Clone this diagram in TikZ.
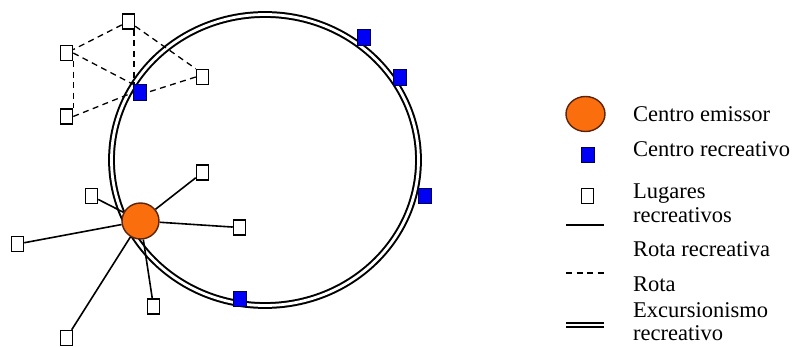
\documentclass[tikz,border=0pt]{standalone}
\usepackage{fontspec}
\setmainfont{Liberation Serif}
\usetikzlibrary{shapes.geometric,backgrounds}
\definecolor{emorange}{RGB}{250,110,14}
\definecolor{emborder}{RGB}{90,35,10}
\definecolor{recblue}{RGB}{0,0,245}
\definecolor{recborder}{RGB}{0,0,80}
\tikzset{
  lugar/.style={draw=black, fill=white, line width=1.5pt, minimum width=12pt, minimum height=15pt, inner sep=0pt},
  crec/.style={draw=recborder, fill=recblue, line width=1pt, minimum width=13pt, minimum height=15.5pt, inner sep=0pt},
  cemis/.style={ellipse, draw=emborder, fill=emorange, line width=1.4pt, inner sep=0pt},
  rotarec/.style={line width=1.6pt},
  rota/.style={line width=1.3pt, dash pattern=on 6pt off 4.5pt},
  excur/.style={draw=black, line width=2pt, double=white, double distance=2.8pt},
  leg/.style={font=\fontsize{22.5}{26}\selectfont, anchor=base west, inner sep=0pt}
}
\begin{document}
\begin{tikzpicture}[x=1pt,y=-1pt]
\useasboundingbox (0,0) rectangle (795,347);

% recreation centres on the ring
\node[crec] (b1) at (140,92.5) {};
\node[crec] (b2) at (363.5,37.5) {};
\node[crec] (b3) at (400,77.5) {};
\node[crec] (b4) at (425,196) {};
\node[crec] (b5) at (240,299) {};

% places (dashed cluster)
\node[lugar] (t1) at (128.5,21.5) {};
\node[lugar] (t2) at (66.5,53) {};
\node[lugar] (t3) at (202.5,77) {};
\node[lugar] (t4) at (66.5,116.5) {};

% emitting centre and its places
\node[cemis, minimum width=37pt, minimum height=36pt] (c) at (140.5,221) {};
\node[lugar] (p1) at (202.5,172.5) {};
\node[lugar] (p2) at (91.5,196) {};
\node[lugar] (p3) at (17.5,244) {};
\node[lugar] (p4) at (239.5,227.5) {};
\node[lugar] (p5) at (153.5,306.5) {};
\node[lugar] (p6) at (66.5,338) {};

\coordinate (vtop) at ([xshift=1pt]t1.south -| b1.north west);
\coordinate (vbot) at ([xshift=1pt]b1.north west);

\begin{scope}[on background layer]
  \draw[excur] (265,160) ellipse [x radius=153.5, y radius=145.5];
  % dashed routes
  \draw[rota] (t1) -- (t2);
  \draw[rota] (t1) -- (t3.north west);
  \draw[rota] (vtop) -- (vbot);
  \draw[rota] (t2.east) -- (b1.north west);
  \draw[rota] (t2.south east) -- (t4.north east);
  \draw[rota] (t4.east) -- (b1.west);
  \draw[rota] (t3.west) -- (b1.east);
  % recreational routes
  \draw[rotarec] (c) -- (p1);
  \draw[rotarec] (c) -- (p2);
  \draw[rotarec] (c) -- (p3);
  \draw[rotarec] (c) -- (p4);
  \draw[rotarec] (c) -- (p5);
  \draw[rotarec] (c) -- (p6);
\end{scope}

% legend
\node[cemis, minimum width=39pt, minimum height=35pt] (lc) at (585.5,114) {};
\node[leg] (tc) at (633,121.5) {Centro emissor};
\node[crec] (lb) at (587.5,155) {};
\node[leg] (tb) at (633,156.5) {Centro recreativo};
\node[lugar] (ll) at (587.5,196) {};
\node[leg] (tl1) at (633,199) {Lugares};
\node[leg] (tl2) at (633,223) {recreativos};
\coordinate (s1) at (566,225);
\coordinate (s2) at (604,225);
\draw[rotarec] (s1) -- (s2);
\node[leg] (ts) at (633,256.5) {Rota recreativa};
\coordinate (d1) at (566,273);
\coordinate (d2) at (604,273);
\draw[rota] (d1) -- (d2);
\node[leg] (td) at (633,291.5) {Rota};
\coordinate (e1) at (566,325);
\coordinate (e2) at (604,325);
\draw[excur] (e1) -- (e2);
\node[leg] (te1) at (633,317) {Excursionismo};
\node[leg] (te2) at (633,341) {recreativo};
\end{tikzpicture}
\end{document}
